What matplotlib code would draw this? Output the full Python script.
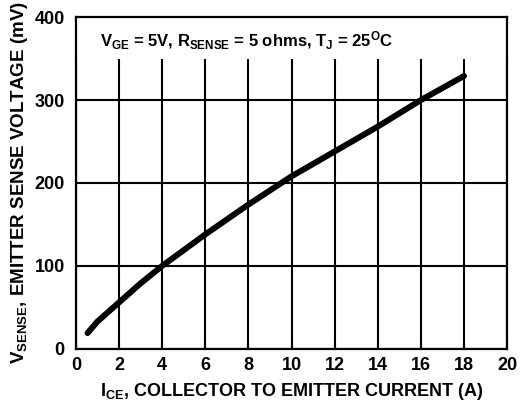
import numpy as np
import matplotlib.pyplot as plt
from matplotlib.patches import Rectangle

# curve
i_ce = [0.54, 1.0, 2.0, 3.0, 4.0, 6.0, 8.0, 10.0, 12.0, 14.0, 16.0, 18.0]
v_sense = [19, 33, 56, 79, 100, 138, 174, 208, 238, 268, 300, 329]
x_ticks = [0, 2, 4, 6, 8, 10, 12, 14, 16, 18, 20]
y_ticks = [0, 100, 200, 300, 400]

plt.rcParams['font.family'] = 'Liberation Sans'
plt.rcParams['font.weight'] = 'bold'
plt.rcParams['mathtext.fontset'] = 'custom'
plt.rcParams['mathtext.rm'] = 'Liberation Sans:bold'
plt.rcParams['mathtext.bf'] = 'Liberation Sans:bold'
plt.rcParams['mathtext.it'] = 'Liberation Sans:bold'

fig = plt.figure(figsize=(5.31, 4.08), dpi=100)
ax = fig.add_axes([0.143, 0.145, 0.812, 0.813])

ax.set_xlim(0, 20)
ax.set_ylim(0, 400)
ax.set_xticks(x_ticks)
ax.set_yticks(y_ticks)
ax.grid(True, color='black', linewidth=1.5)
ax.set_axisbelow(True)
for s in ax.spines.values():
    s.set_linewidth(1.6)

ax.tick_params(axis='both', length=0, labelsize=13)
ax.tick_params(axis='y', pad=8)
ax.tick_params(axis='x', pad=6)
ax.tick_params(axis='x', top=True, direction='in', length=4, width=1.5)

# white band under the annotation hides the grid
ax.add_patch(Rectangle((0, 349), 20, 51, facecolor='white', edgecolor='none', zorder=1.5))

ax.plot(i_ce, v_sense, color='black', linewidth=4.3, solid_capstyle='round', zorder=3)

ax.text(7.9, 371, r'V$_{GE}$ = 5V, R$_{SENSE}$ = 5 ohms, T$_{J}$ = 25$^{O}$C',
        ha='center', va='center', fontsize=12, fontweight='bold', zorder=4)

ax.set_xlabel(r'I$_{CE}$, COLLECTOR TO EMITTER CURRENT (A)', fontsize=13,
              fontweight='bold', labelpad=5)
ax.set_ylabel(r'V$_{SENSE}$, EMITTER SENSE VOLTAGE (mV)', fontsize=13.5,
              fontweight='bold', labelpad=3)

fig.savefig('out.png', dpi=100)
